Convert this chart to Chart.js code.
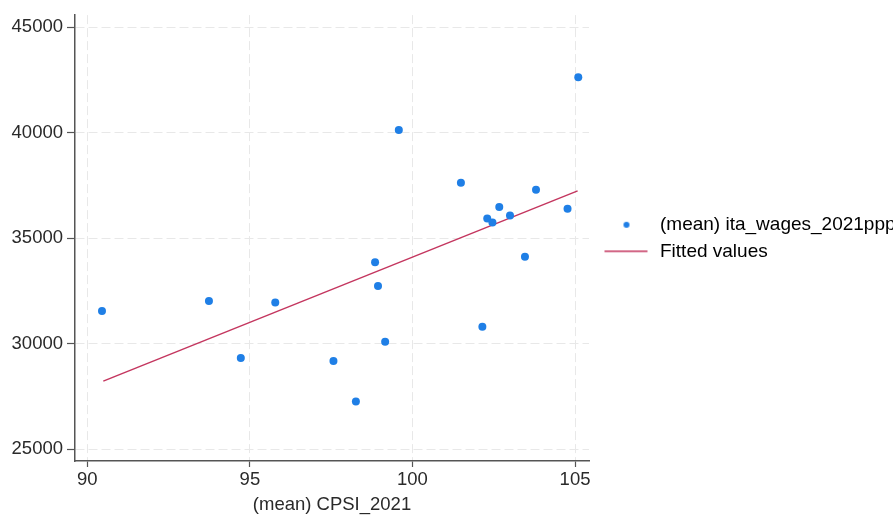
<!DOCTYPE html>
<html>
<head>
<meta charset="utf-8">
<script src="https://cdn.jsdelivr.net/npm/chart.js@4"></script>
<style>
    html, body { margin: 0; padding: 0; background: #fff; overflow: hidden; }
    canvas { display: block; }
</style>
</head>
<body>
<canvas id="chart" width="893" height="516"></canvas>
<script>
// values
const cpsi = [90.45, 93.74, 94.72, 95.78, 97.57, 98.26, 98.85, 98.94, 99.16, 99.58,
    101.49, 102.15, 102.30, 102.46, 102.67, 103.00, 103.46, 103.80, 104.77, 105.10];
const wages = [31550, 32020, 29320, 31960, 29180, 27260, 33860, 32730, 30090, 40130,
    37630, 30800, 35930, 35740, 36480, 36070, 34120, 37290, 36390, 42620];
const fitX = [90.49, 105.08];
const fitY = [28230, 37240];
const xTicks = [90, 95, 100, 105];
const yTicks = [25000, 30000, 35000, 40000, 45000];
const seriesNames = ['(mean) ita_wages_2021ppp', 'Fitted values'];
const xTitle = '(mean) CPSI_2021';

const dotColor = '#1f7fe6';
const lineColor = '#c4365f';
const axisColor = '#555555';
const textColor = '#2a2a2a';
const fontFamily = '"Liberation Sans", Arial, Helvetica, sans-serif';

// legend symbols as small canvases so they sit where the reference has them
function legendSymbol(kind) {
    const c = document.createElement('canvas');
    c.width = 54;
    c.height = 8;
    const g = c.getContext('2d');
    if (kind === 'dot') {
        g.fillStyle = dotColor;
        g.beginPath();
        g.arc(30, 4, 3, 0, Math.PI * 2);
        g.fill();
    } else {
        g.fillStyle = lineColor;
        g.fillRect(8, 3.25, 43, 1.5);
    }
    return c;
}
const symbols = [legendSymbol('dot'), legendSymbol('line')];

new Chart(document.getElementById('chart'), {
    data: {
        datasets: [{
            type: 'scatter',
            label: seriesNames[0],
            data: cpsi.map((x, i) => ({ x: x, y: wages[i] })),
            backgroundColor: dotColor,
            borderWidth: 0,
            pointRadius: 4,
            pointHoverRadius: 4
        }, {
            type: 'line',
            label: seriesNames[1],
            data: fitX.map((x, i) => ({ x: x, y: fitY[i] })),
            borderColor: lineColor,
            borderWidth: 1.5,
            pointRadius: 0,
            fill: false
        }]
    },
    options: {
        responsive: false,
        animation: false,
        layout: { padding: { top: 15, left: 0, right: 0, bottom: 0 } },
        plugins: {
            tooltip: { enabled: false },
            legend: {
                position: 'right',
                fullSize: false,
                maxWidth: 304,
                labels: {
                    usePointStyle: true,
                    pointStyleWidth: 54,
                    padding: 7.5,
                    color: textColor,
                    font: { family: fontFamily, size: 19 },
                    generateLabels: (chart) => chart.data.datasets.map((ds, i) => ({
                        text: ds.label,
                        pointStyle: symbols[i],
                        fillStyle: 'transparent',
                        strokeStyle: 'transparent',
                        lineWidth: 0,
                        datasetIndex: i
                    }))
                }
            }
        },
        scales: {
            x: {
                type: 'linear',
                min: 89.62,
                max: 105.43,
                afterBuildTicks: (scale) => { scale.ticks = xTicks.map(v => ({ value: v })); },
                afterFit: (scale) => { scale.height = 55; },
                grid: {
                    color: '#e8e8e8',
                    lineWidth: 1,
                    tickColor: axisColor,
                    tickLength: 6,
                    tickWidth: 1.2
                },
                border: { color: axisColor, width: 1.5, dash: [9, 4] },
                ticks: {
                    padding: 2,
                    maxRotation: 0,
                    color: textColor,
                    font: { family: fontFamily, size: 18.5 }
                },
                title: {
                    display: true,
                    text: xTitle,
                    color: textColor,
                    padding: { top: 0, bottom: 0 },
                    font: { family: fontFamily, size: 18.5 }
                }
            },
            y: {
                type: 'linear',
                min: 24445,
                max: 45570,
                afterBuildTicks: (scale) => { scale.ticks = yTicks.map(v => ({ value: v })); },
                afterFit: (scale) => { scale.width = 75; },
                grid: {
                    color: '#e8e8e8',
                    lineWidth: 1,
                    tickColor: axisColor,
                    tickLength: 8,
                    tickWidth: 1.2
                },
                border: { color: axisColor, width: 1.5, dash: [9, 4] },
                ticks: {
                    padding: 4,
                    color: textColor,
                    font: { family: fontFamily, size: 18.5 },
                    callback: (v) => String(v)
                }
            }
        }
    }
});
</script>
</body>
</html>
